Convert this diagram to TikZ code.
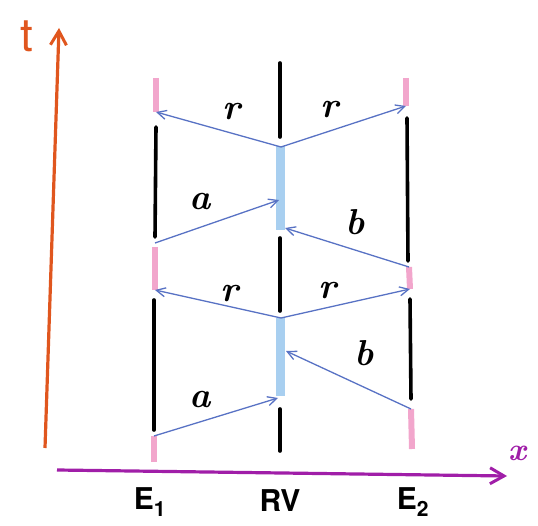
\documentclass[tikz,border=0pt]{standalone}
\usepackage{fontspec}
\setsansfont{TeX Gyre Heros}
\usetikzlibrary{arrows.meta}
\definecolor{taxis}{HTML}{E0561E}
\definecolor{xaxis}{HTML}{A01EA8}
\definecolor{sig}{HTML}{5872C4}
\definecolor{pinkseg}{HTML}{F2A6CC}
\definecolor{blueseg}{HTML}{A8CFF0}
\tikzset{
  world/.style={line width=3.6pt, black, line cap=round},
  pinkbar/.style={line width=6pt, pinkseg},
  bluebar/.style={line width=9pt, blueseg},
  signal/.style={line width=1.3pt, sig, -{Straight Barb[length=9pt,width=9pt,line width=1.3pt]}},
  lbl/.style={font=\fontsize{36}{38}\selectfont\bfseries\itshape, inner sep=0pt},
  sname/.style={font=\sffamily\bfseries\fontsize{30}{32}\selectfont, inner sep=0pt},
}
\begin{document}
\begin{tikzpicture}[x=1pt,y=-1pt]
\useasboundingbox (0,0) rectangle (538,526);
% axes
\coordinate (tb) at (45,448);
\coordinate (tt) at (59,28);
\coordinate (xl) at (57,470);
\coordinate (xr) at (507,476);
\draw[taxis, line width=3.2pt, -{Straight Barb[length=14pt,width=16pt,line width=3pt]}] (tb) -- (tt);
\draw[xaxis, line width=3.2pt, -{Straight Barb[length=14pt,width=16pt,line width=3pt]}] (xl) -- (xr);
\node[inner sep=0pt, taxis, font=\sffamily\fontsize{46}{48}\selectfont] (tlab) at (27,36) {t};
\node[lbl, xaxis, font=\fontsize{32}{34}\selectfont\bfseries\itshape] (xlab) at (517,453) {x};
% E1 worldline
\coordinate (e1p1a) at (156,78);  \coordinate (e1r1) at (156,112);
\coordinate (e1b1a) at (156,127); \coordinate (e1b1b) at (155,237);
\coordinate (e1p2a) at (155,247); \coordinate (e1r2) at (155,290);
\coordinate (e1b2a) at (154,300); \coordinate (e1b2b) at (154,430);
\coordinate (e1s2) at (154,436); \coordinate (e1p3b) at (154,462);
\coordinate (e1s1) at (155,243);
\draw[pinkbar] (e1p1a) -- (e1r1);
\draw[world] (e1b1a) -- (e1b1b);
\draw[pinkbar] (e1p2a) -- (e1r2);
\draw[world] (e1b2a) -- (e1b2b);
\draw[pinkbar] (e1s2) -- (e1p3b);
% RV worldline
\coordinate (rv1a) at (280,63);   \coordinate (rv1b) at (280,137);
\coordinate (rvB1a) at (280,146); \coordinate (rvB1b) at (280,230);
\coordinate (rv2a) at (280,238);  \coordinate (rv2b) at (280,311);
\coordinate (rvB2a) at (280,318); \coordinate (rvB2b) at (280,396);
\coordinate (rv3a) at (280,409);  \coordinate (rv3b) at (280,451);
\draw[world] (rv1a) -- (rv1b);
\draw[bluebar] (rvB1a) -- (rvB1b);
\draw[world] (rv2a) -- (rv2b);
\draw[bluebar] (rvB2a) -- (rvB2b);
\draw[world] (rv3a) -- (rv3b);
% E2 worldline
\coordinate (e2p1a) at (406,78);  \coordinate (e2r1) at (406,106);
\coordinate (e2b1a) at (407,118); \coordinate (e2b1b) at (408,261);
\coordinate (e2s1) at (409,267);  \coordinate (e2r2) at (410,289);
\coordinate (e2b2a) at (410,299); \coordinate (e2b2b) at (411,399);
\coordinate (e2s2) at (411,409);  \coordinate (e2p3b) at (412,449);
\draw[pinkbar] (e2p1a) -- (e2r1);
\draw[world] (e2b1a) -- (e2b1b);
\draw[pinkbar] (e2s1) -- (e2r2);
\draw[world] (e2b2a) -- (e2b2b);
\draw[pinkbar] (e2s2) -- (e2p3b);
% signal end points on RV
\coordinate (rvc1) at (281,147);
\coordinate (rva1) at (279,200);
\coordinate (rvb1) at (285,228);
\coordinate (rvc2) at (281,318);
\coordinate (rvb2) at (286,351);
\coordinate (rva2) at (278,398);
% signals
\draw[signal] (rvc1) -- (e1r1);
\draw[signal] (rvc1) -- (e2r1);
\draw[signal] (e1s1) -- (rva1);
\draw[signal] (e2s1) -- (rvb1);
\draw[signal] (rvc2) -- (e1r2);
\draw[signal] (rvc2) -- (e2r2);
\draw[signal] (e2s2) -- (rvb2);
\draw[signal] (e1s2) -- (rva2);
% labels
\node[lbl] (lc1) at (232,112) {r};
\node[lbl] (lc2) at (330,110) {r};
\node[lbl] (la1) at (200,202) {a};
\node[lbl] (lb1) at (355,222) {b};
\node[lbl] (lc3) at (230,294) {r};
\node[lbl] (lc4) at (328,291) {r};
\node[lbl] (lb2) at (364,353) {b};
\node[lbl] (la2) at (200,400) {a};
% world line names
\node[sname] (nE1) at (150,502) {E\textsubscript{1}};
\node[sname] (nRV) at (280,501) {RV};
\node[sname] (nE2) at (413,502) {E\textsubscript{2}};
\end{tikzpicture}
\end{document}
